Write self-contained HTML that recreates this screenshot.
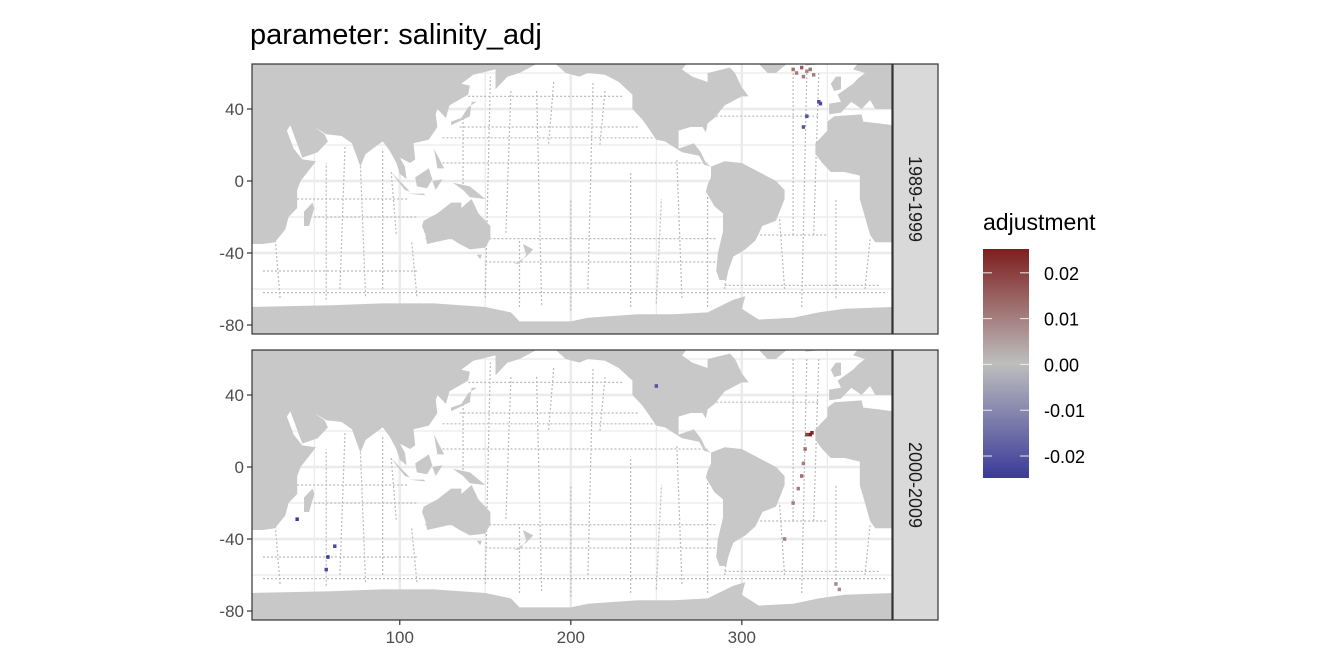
<!DOCTYPE html>
<html><head><meta charset="utf-8"><style>
body{margin:0;background:#fff;font-family:"Liberation Sans",sans-serif}
svg{display:block}
</style></head><body>
<svg id="chart" width="1344" height="672" xmlns="http://www.w3.org/2000/svg">
<defs>
<linearGradient id="cb" x1="0" y1="0" x2="0" y2="1">
<stop offset="0" stop-color="#7E1E1E"/><stop offset="0.5" stop-color="#BEBEBE"/><stop offset="1" stop-color="#3A3A99"/>
</linearGradient>
</defs>
<text x="250" y="44" font-size="29" fill="#000">parameter: salinity_adj</text>
<g id="panels"></g>
<g>
<text x="983" y="230" font-size="23" fill="#000">adjustment</text>
<rect x="983" y="249" width="46" height="229" fill="url(#cb)"/>
<g id="legticks"></g>
</g>
</svg>
<script>
const NS='http://www.w3.org/2000/svg';
const panelLabels=['1989-1999','2000-2009'];
const xTicks=[100,200,300];
const yTicks=[40,0,-40,-80];
const legendTicks=[0.02,0.01,0,-0.01,-0.02];
const legendTickLabels=['0.02','0.01','0.00','-0.01','-0.02'];
// adjustment points
const adjLon=[330,332,335,338,340,342,336,345,346,338,336, 340,341,338,337,336,335,333,330,325,355,357,40,58,62,57,250];
const adjLat=[62,60,63,61,62,59,58,44,43,36,30, 18,19,18,10,2,-5,-12,-20,-40,-65,-68,-29,-50,-44,-57,45];
const adjVal=[0.012,0.01,0.015,0.008,0.012,0.01,0.01,-0.022,-0.022,-0.02,-0.02, 0.025,0.025,0.02,0.012,0.01,0.012,0.01,0.01,0.01,0.008,0.008,-0.025,-0.025,-0.022,-0.022,-0.02];
const adjPanel=[0,0,0,0,0,0,0,0,0,0,0, 1,1,1,1,1,1,1,1,1,1,1,1,1,1,1,1];
// cruise tracks
const mTrackLon=[30,57,65,80,90,95,110,137,150,165,170,180,190,200,210,220,235,250,265,280,290,325,330,335,345,355,372];
const mTrackLat0=[-65,-66,-60,-64,-60,5,-64,35,-65,50,-70,50,55,-72,-60,50,-70,-68,-65,-70,-60,-60,60,-70,60,-65,-60];
const mTrackLat1=[-30,10,20,8,18,-30,-34,-5,58,-30,-32,-70,20,-10,55,20,5,-10,12,-8,-30,-20,-30,60,-30,-10,-32];
const zTrackLat=[-62,-50,-45,-32,-20,-10,10,24,30,36,47,-30,-58];
const zTrackLon0=[20,20,150,115,50,40,125,125,135,285,140,292,290];
const zTrackLon1=[385,110,290,285,110,105,280,250,240,345,230,350,380];
const land=[
[[13,66],[13,-35],[20,-35],[27,-34],[33,-27],[35,-20],[40,-15],[40,-5],[42,0],[51,11],[43,12],[38,18],[34,28],[36,31],[43,13],[52,16],[58,22],[56,26],[50,30],[57,26],[66,25],[72,21],[77,8],[80,15],[90,22],[94,17],[98,10],[100,4],[104,1],[103,8],[100,13],[106,10],[109,12],[108,21],[117,23],[122,30],[121,37],[122,40],[127,35],[129,42],[140,48],[141,53],[136,54],[143,59],[156,62],[156,51],[163,58],[170,60],[180,65],[190,66],[190,70],[13,70]],
[[44,-25],[47,-25],[50,-15],[49,-12],[44,-17]],
[[130,31],[141,36],[142,44],[145,44],[140,41],[136,35],[130,33]],
[[109,2],[117,7],[119,1],[116,-4],[110,-3]],
[[95,5],[106,-6],[103,-5],[98,1]],
[[105,-7],[115,-8],[114,-7]],
[[119,0],[125,1],[121,-5]],
[[131,-1],[141,-3],[150,-10],[141,-9],[137,-5]],
[[120,18],[126,7],[122,7]],
[[114,-22],[122,-18],[130,-12],[136,-12],[136,-15],[142,-10],[146,-18],[153,-25],[153,-32],[150,-37],[141,-38],[135,-35],[130,-32],[116,-35],[115,-30],[113,-25]],
[[172,-35],[178,-38],[174,-42],[167,-46],[170,-46],[174,-41]],
[[145,-41],[148,-41],[147,-43.5]],
[[190,70],[190,66],[197,60],[205,58],[210,60],[220,59],[228,55],[236,48],[236,40],[242,34],[250,23],[255,22],[265,16],[275,14],[278,9],[282,8],[279,10],[276,16],[272,21],[263,18],[263,28],[270,30],[277,30],[279,27],[280,32],[284,35],[290,42],[294,44],[300,47],[304,47],[300,52],[296,60],[293,63],[280,60],[280,55],[271,58],[265,62],[270,68],[300,70]],
[[315,60],[320,60],[330,68],[338,70],[340,80],[300,80],[290,76],[305,70]],
[[337,64],[346,65],[344,66.5],[338,66]],
[[282,8],[290,11],[300,10],[310,5],[320,0],[325,-5],[325,-10],[320,-22],[312,-25],[308,-33],[302,-38],[295,-42],[292,-50],[291,-55],[287,-55],[285,-50],[286,-40],[289,-28],[289,-18],[284,-14],[279,-6],[280,-2],[282,2]],
[[343,15],[343,21],[350,28],[350,33],[354,36],[370,37],[371,33],[380,32],[388,31],[388,-34],[378,-34],[375,-30],[372,-20],[369,-10],[369,3],[360,5],[352,5],[347,10]],
[[351,37],[351,43],[358,44],[356,48],[365,54],[368,57],[372,60],[365,62],[372,70],[388,70],[388,40],[378,40],[375,45],[370,40],[364,44],[358,38]],
[[354,50],[358,51],[358,58],[355,58],[352,54]],
[[13,-70],[60,-69],[90,-68],[120,-68],[150,-70],[165,-73],[170,-78],[200,-78],[210,-76],[240,-74],[260,-74],[280,-73],[295,-66],[302,-64],[300,-71],[310,-77],[330,-76],[345,-73],[360,-71],[388,-70],[388,-90],[13,-90]]
];
const X0=252,X1=892,LON0=13.6,LON1=387.8;
const panelTops=[64,350],PH=270,LAT0=65,LAT1=-85;
const sx=l=>X0+(l-LON0)/(LON1-LON0)*(X1-X0);
function mk(t,a,p){const e=document.createElementNS(NS,t);for(const k in a)e.setAttribute(k,a[k]);(p||document.getElementById('panels')).appendChild(e);return e;}
function col(v){const t=Math.max(-1,Math.min(1,v/0.025));const g=[190,190,190];const r=[126,30,30],b=[58,58,153];const c=t>0?r:b,a=Math.abs(t);return `rgb(${g.map((x,i)=>Math.round(x+(c[i]-x)*a)).join(',')})`;}
panelTops.forEach((top,pi)=>{
  const sy=l=>top+(LAT0-l)/(LAT0-LAT1)*PH;
  const g=mk('g',{});
  
  
  mk('rect',{x:X0,y:top,width:X1-X0,height:PH,fill:'#fff'},g);
  [50,100,150,200,250,300,350].forEach(v=>{const l=mk('line',{x1:sx(v),x2:sx(v),y1:top,y2:top+PH,stroke:'#EBEBEB','stroke-width':v%100==0?2.5:1.2},g);});
  [60,40,20,0,-20,-40,-60,-80].forEach(v=>{const l=mk('line',{x1:X0,x2:X1,y1:sy(v),y2:sy(v),stroke:'#EBEBEB','stroke-width':v%40==0?2.5:1.2},g);});
  const cp='clip'+pi;const cl=mk('clipPath',{id:cp},g);mk('rect',{x:X0,y:top,width:X1-X0,height:PH},cl);
  const lg=mk('g',{'clip-path':`url(#${cp})`},g);
  mTrackLon.forEach((lo,i)=>{const l=mk('line',{x1:sx(lo),x2:sx(lo+(i%3-1)*3),y1:sy(mTrackLat0[i]),y2:sy(mTrackLat1[i]),stroke:'#BBBBBB','stroke-width':1.2,'stroke-dasharray':'2,2'},lg);});
  zTrackLat.forEach((la,i)=>{const l=mk('line',{x1:sx(zTrackLon0[i]),x2:sx(zTrackLon1[i]),y1:sy(la),y2:sy(la),stroke:'#BBBBBB','stroke-width':1.2,'stroke-dasharray':'2,2'},lg);});
  land.forEach(poly=>{const p=mk('polygon',{points:poly.map(q=>sx(q[0]).toFixed(1)+','+sy(q[1]).toFixed(1)).join(' '),fill:'#C8C8C8'},lg);});
  adjLon.forEach((lo,i)=>{if(adjPanel[i]!==pi)return;const r=mk('rect',{x:sx(lo)-1.7,y:sy(adjLat[i])-1.8,width:3.4,height:3.6,fill:col(adjVal[i])},lg);});
  mk('rect',{x:X0,y:top,width:X1-X0,height:PH,fill:'none',stroke:'#333','stroke-width':1.2},g);
  const s=mk('rect',{x:893,y:top,width:45,height:PH,fill:'#D9D9D9',stroke:'#333','stroke-width':1.2},g);
  
  const st=mk('text',{x:0,y:0,'font-size':18,'text-anchor':'middle',transform:`translate(909,${top+PH/2}) rotate(90)`,fill:'#1A1A1A'},g);
  st.textContent=panelLabels[pi];
  
  yTicks.forEach(v=>{mk('line',{x1:X0-5,x2:X0,y1:sy(v),y2:sy(v),stroke:'#333','stroke-width':1.2},g);
    const t=mk('text',{x:X0-8,y:sy(v)+6,'font-size':17,'text-anchor':'end',fill:'#4D4D4D'},g);t.textContent=v;
    });
});
const bot=panelTops[1]+PH;
xTicks.forEach(v=>{mk('line',{x1:sx(v),x2:sx(v),y1:bot,y2:bot+5,stroke:'#333','stroke-width':1.2});
  const t=mk('text',{x:sx(v),y:bot+23,'font-size':17,'text-anchor':'middle',fill:'#4D4D4D'});t.textContent=v;
  });
const lt=document.getElementById('legticks');
legendTicks.forEach((v,i)=>{const y=249+(0.0252-v)/0.05*229;
  mk('line',{x1:983,x2:992,y1:y,y2:y,stroke:'#eee','stroke-width':1},lt);
  mk('line',{x1:1020,x2:1029,y1:y,y2:y,stroke:'#eee','stroke-width':1},lt);
  const t=mk('text',{x:1044,y:y+7,'font-size':18,fill:'#000'},lt);t.textContent=legendTickLabels[i];
  });
</script>
</body></html>
